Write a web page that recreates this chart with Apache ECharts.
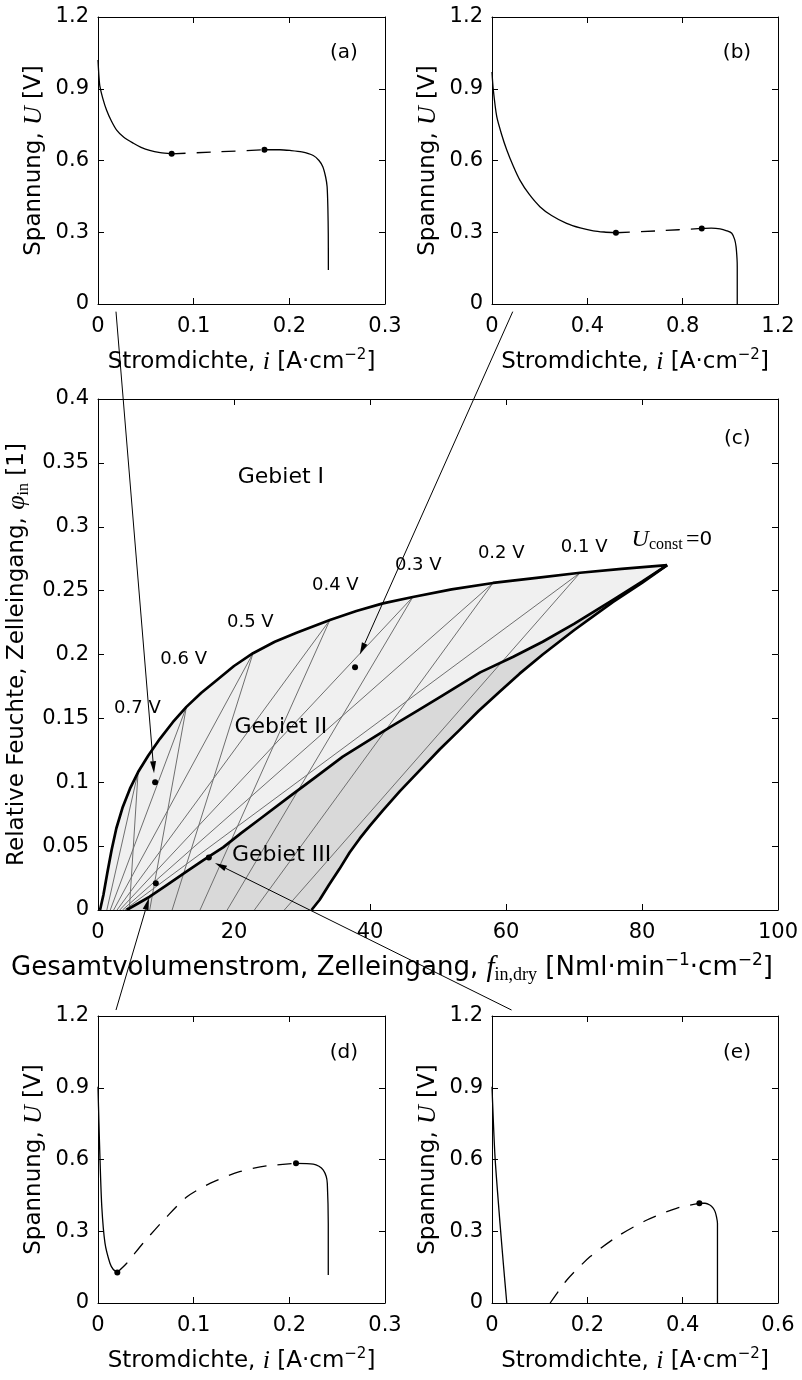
<!DOCTYPE html>
<html>
<head>
<meta charset="utf-8">
<script src="https://cdn.jsdelivr.net/npm/echarts@6/dist/echarts.min.js"></script>
<style>
html,body{margin:0;padding:0;background:#fff;}
#chart{width:802px;height:1380px;}
</style>
</head>
<body>
<div id="chart"></div>
<script>
// ================= DATA =================
// Panel (a): U(i) curve, stable branch 1, unstable (dashed) branch, stable branch 2
const aBranch1 = [[0,1.02],[0.001,0.95],[0.002,0.91],[0.005,0.86],[0.009,0.81],[0.014,0.765],[0.0195,0.727],[0.027,0.697],[0.037,0.672],[0.045,0.655],[0.054,0.642],[0.065,0.633],[0.077,0.628]];
const aUnstable = [[0.077,0.628],[0.125,0.636],[0.174,0.645]];
const aBranch2 = [[0.174,0.645],[0.19,0.645],[0.2007,0.642],[0.213,0.636],[0.225,0.621],[0.231,0.6],[0.235,0.574],[0.238,0.53],[0.2395,0.49],[0.2403,0.4],[0.2407,0.295],[0.2408,0.142]];
const aFolds = [[0.077,0.628],[0.174,0.645]];

// Panel (b)
const bBranch1 = [[0,0.97],[0.005,0.9],[0.02,0.783],[0.04,0.71],[0.062,0.644],[0.09,0.575],[0.117,0.518],[0.155,0.46],[0.201,0.407],[0.25,0.37],[0.313,0.337],[0.37,0.318],[0.425,0.306],[0.47,0.301],[0.52,0.298]];
const bUnstable = [[0.52,0.298],[0.7,0.306],[0.88,0.316]];
const bBranch2 = [[0.88,0.316],[0.92,0.317],[0.957,0.314],[0.985,0.306],[1.006,0.296],[1.018,0.27],[1.024,0.24],[1.028,0.19],[1.029,0.156],[1.029,0]];
const bFolds = [[0.52,0.298],[0.88,0.316]];

// Panel (d)
const dBranch1 = [[0,0.904],[0.001,0.75],[0.002,0.612],[0.004,0.40],[0.0073,0.25],[0.0125,0.166],[0.016,0.14],[0.0202,0.128]];
const dUnstable = [[0.0202,0.128],[0.03,0.166],[0.047,0.25],[0.072,0.361],[0.093,0.444],[0.117,0.5],[0.148,0.549],[0.176,0.573],[0.207,0.584]];
const dBranch2 = [[0.207,0.584],[0.225,0.581],[0.231,0.572],[0.2355,0.556],[0.2385,0.53],[0.2397,0.5],[0.2407,0.333],[0.2407,0.117]];
const dFolds = [[0.0202,0.128],[0.207,0.584]];

// Panel (e)
const eBranch1 = [[0,0.904],[0.0063,0.612],[0.0168,0.333],[0.024,0.16],[0.031,0]];
const eUnstable = [[0.122,0],[0.157,0.096],[0.206,0.194],[0.262,0.277],[0.325,0.347],[0.387,0.396],[0.435,0.417]];
const eBranch2 = [[0.435,0.417],[0.447,0.417],[0.457,0.41],[0.464,0.397],[0.468,0.382],[0.471,0.36],[0.473,0.333],[0.473,0]];
const eFolds = [[0.435,0.417]];

// Panel (c): region boundaries (f_in,dry , phi_in)
const upperBoundary = [[0.3,0],[0.8,0.012],[1.4,0.03],[2.0,0.047],[2.7,0.064],[3.6,0.08],[4.7,0.095],[5.9,0.108],[7.4,0.121],[9.1,0.134],[11,0.147],[13,0.159],[15.2,0.17],[17.5,0.18],[20,0.191],[22.8,0.201],[26,0.21],[29.2,0.217],[34.1,0.227],[38,0.234],[41.9,0.24],[46.3,0.245],[52,0.251],[58.1,0.256],[64.5,0.26],[70.9,0.264],[77,0.267],[83.7,0.27]];
const boundaryII_III = [[4.2,0],[6,0.0055],[7.6,0.0104],[10,0.019],[13,0.03],[15.5,0.039],[18.4,0.049],[21,0.06],[24,0.072],[28.2,0.089],[32,0.104],[36,0.12],[42.9,0.143],[47,0.156],[50.7,0.168],[56.2,0.186],[61,0.198],[65.4,0.21],[70,0.224],[75.8,0.243],[80,0.257],[83.7,0.27]];
const rightBoundary = [[31.4,0],[32.6,0.008],[34,0.02],[35.5,0.032],[37,0.045],[38.5,0.056],[40,0.066],[41.9,0.078],[44.4,0.093],[47.8,0.112],[50.3,0.126],[53,0.14],[56,0.156],[59.1,0.171],[62,0.185],[65.4,0.2],[70,0.219],[75.7,0.241],[80,0.256],[83.7,0.27]];

// constant-voltage loci: cusp on upper boundary, foot points on phi=0
const voltageLabels = ['0.7 V','0.6 V','0.5 V','0.4 V','0.3 V','0.2 V','0.1 V'];
const cusps = [[5.9,0.108],[13,0.159],[22.8,0.201],[34.1,0.227],[46.3,0.245],[58.1,0.256],[70.9,0.264]];
const lowerFoldFoot = [1.3,1.8,2.3,2.8,3.2,3.6,3.9];
const upperFoldFoot = [4.6,7.6,10.9,15,19,23,27.4];
const voltageLabelAt = [[5.8,0.158],[12.6,0.196],[22.4,0.225],[34.9,0.254],[47.1,0.27],[59.3,0.279],[71.5,0.284]];

// operating points marked in (c)
const cPoints = [[8.4,0.1],[37.8,0.19],[8.5,0.021],[16.3,0.041]];

// region labels
const regionNames = ['Gebiet I','Gebiet II','Gebiet III'];
const regionAt = [[26.9,0.339],[26.9,0.143],[27,0.043]];
const uConstAt = [78.4,0.2896];

// panel tags
const tags = ['(a)','(b)','(c)','(d)','(e)'];
const tagAt = [[0.257,1.05],[1.028,1.05],[94,0.369],[0.257,1.045],[0.514,1.045]];

// arrows: from below/above small panel (panel data coords) to points in (c)
const arrowFromPanel = [0,1,3,4];
const arrowFrom = [[0.0188,-0.032],[0.087,-0.032],[0.0188,1.225],[0.041,1.225]];
const arrowTo = [[8.24,0.107],[38.5,0.2],[7.5,0.0094],[17.2,0.0368]];

// axes
const xRanges = [[0,0.3,0.1],[0,1.2,0.4],[0,100,20],[0,0.3,0.1],[0,0.6,0.2]];
const yRanges = [[0,1.2,0.3],[0,1.2,0.3],[0,0.4,0.05],[0,1.2,0.3],[0,1.2,0.3]];
const xTitleIV = 'Stromdichte, {m|i} [A·cm{sup|−2}]';
const yTitleIV = 'Spannung, {m|U} [V]';
const xTitleC = 'Gesamtvolumenstrom, Zelleingang, {m|f}{sub|in,dry} [Nml·min{sup|−1}·cm{sup|−2}]';
const yTitleC = 'Relative Feuchte, Zelleingang, {m|φ}{sub|in} [1]';

// ================= LAYOUT / STYLE =================
const SANS = 'DejaVu Sans';
const SERIF = 'Liberation Serif';
const grids = [
  {left:98, top:17, width:287, height:287},
  {left:492, top:17, width:286, height:287},
  {left:98, top:399, width:680, height:511},
  {left:98, top:1016, width:287, height:287},
  {left:492, top:1016, width:286, height:287}
];
const xNames = [xTitleIV, xTitleIV, xTitleC, xTitleIV, xTitleIV];
const yNames = [yTitleIV, yTitleIV, yTitleC, yTitleIV, yTitleIV];
const yNameGap = [50, 50, 58, 50, 50];

function nameStyle(fs, pad) {
  const s = fs / 23;
  return {
    fontFamily: SANS, fontSize: fs, color: '#000', lineHeight: Math.round(28*s),
    padding: pad || 0,
    rich: {
      m: {fontFamily: SERIF, fontStyle: 'italic', fontSize: Math.round(26*s), lineHeight: Math.round(28*s), color:'#000'},
      sup: {fontFamily: SANS, fontSize: Math.round(15*s), verticalAlign: 'top', lineHeight: Math.round(15*s), color:'#000'},
      sub: {fontFamily: SERIF, fontSize: Math.round(16*s), verticalAlign: 'bottom', lineHeight: Math.round(17*s), color:'#000'}
    }
  };
}

const xAxes = [], yAxes = [];
grids.forEach((g, k) => {
  const [xmn, xmx, xiv] = xRanges[k];
  const [ymn, ymx, yiv] = yRanges[k];
  ['bottom','top'].forEach(pos => {
    const main = pos === 'bottom';
    const isC = k === 2;
    xAxes.push({
      type:'value', gridIndex:k, position:pos, min:xmn, max:xmx, interval:xiv,
      axisLine:{show:true, onZero:false, lineStyle:{color:'#000', width:1}},
      axisTick:{show:true, inside:true, length:6, lineStyle:{color:'#000', width:1}},
      axisLabel:{show:main, color:'#000', fontFamily:SANS, fontSize:21, margin:12},
      splitLine:{show:false},
      name: main ? xNames[k] : '', nameLocation:'middle', nameGap: isC ? 42 : 44,
      nameTextStyle: isC ? nameStyle(26, [0, 92, 0, 0]) : nameStyle(23)
    });
  });
  ['left','right'].forEach(pos => {
    const main = pos === 'left';
    yAxes.push({
      type:'value', gridIndex:k, position:pos, min:ymn, max:ymx, interval:yiv,
      axisLine:{show:true, onZero:false, lineStyle:{color:'#000', width:1}},
      axisTick:{show:true, inside:true, length:6, lineStyle:{color:'#000', width:1}},
      axisLabel:{show:main, color:'#000', fontFamily:SANS, fontSize:21, margin:9},
      splitLine:{show:false},
      name: main ? yNames[k] : '', nameLocation:'middle', nameGap:yNameGap[k], nameRotate:90,
      nameTextStyle: nameStyle(23)
    });
  });
});

const series = [];
function curve(k, data, dashed, z) {
  series.push({
    type:'line', xAxisIndex:2*k, yAxisIndex:2*k, data:data, showSymbol:false, symbol:'none',
    silent:true, smooth:0.25, z: z || 3,
    lineStyle:{color:'#000', width:1.3, type: dashed ? [14,11] : 'solid'}
  });
}
function dots(k, data, size) {
  series.push({
    type:'scatter', xAxisIndex:2*k, yAxisIndex:2*k, data:data, symbol:'circle', symbolSize:size || 5.5,
    silent:true, z:6, itemStyle:{color:'#000', opacity:1}
  });
}
function texts(k, items, z) {
  series.push({
    type:'scatter', xAxisIndex:2*k, yAxisIndex:2*k, data:items, symbolSize:1, silent:true, z: z || 7,
    itemStyle:{color:'#fff', opacity:0},
    label:{show:true, position:'inside', color:'#000', opacity:1, textBorderWidth:0, fontFamily:SANS, formatter: p => p.name}
  });
}

// small panels
const ivPanels = [
  {k:0, b1:aBranch1, u:aUnstable, b2:aBranch2, f:aFolds},
  {k:1, b1:bBranch1, u:bUnstable, b2:bBranch2, f:bFolds},
  {k:3, b1:dBranch1, u:dUnstable, b2:dBranch2, f:dFolds},
  {k:4, b1:eBranch1, u:eUnstable, b2:eBranch2, f:eFolds}
];
ivPanels.forEach(p => {
  curve(p.k, p.b1, false);
  curve(p.k, p.u, true);
  curve(p.k, p.b2, false);
  dots(p.k, p.f, 6);
});

// panel (c) regions
const regionII = upperBoundary.concat(boundaryII_III.slice().reverse());
const regionIII = boundaryII_III.concat(rightBoundary.slice().reverse());
function polygon(pts, fill, z) {
  series.push({
    type:'custom', xAxisIndex:4, yAxisIndex:4, silent:true, z:z, data:[[0,0]],
    renderItem: (params, api) => ({
      type:'polygon', shape:{points: pts.map(p => api.coord(p))},
      style:{fill: fill, stroke: null}
    })
  });
}
polygon(regionII, '#f0f0f0', 1);
polygon(regionIII, '#d9d9d9', 1);

// constant-voltage loci (thin grey lines)
cusps.forEach((c, i) => {
  [[[lowerFoldFoot[i], 0], c], [c, [upperFoldFoot[i], 0]]].forEach(seg => {
    series.push({
      type:'line', xAxisIndex:4, yAxisIndex:4, data:seg, showSymbol:false, symbol:'none',
      silent:true, z:2, lineStyle:{color:'#6e6e6e', width:1}
    });
  });
});

// thick boundaries
[upperBoundary, boundaryII_III, rightBoundary].forEach(b => {
  series.push({
    type:'line', xAxisIndex:4, yAxisIndex:4, data:b, showSymbol:false, symbol:'none',
    silent:true, z:4, lineStyle:{color:'#000', width:2.7, join:'round'}
  });
});
dots(2, cPoints, 6);

// labels in (c)
const cItems = [];
regionNames.forEach((n, i) => cItems.push({name:n, value:regionAt[i], label:{fontSize:22}}));
voltageLabels.forEach((n, i) => cItems.push({name:n, value:voltageLabelAt[i], label:{fontSize:18}}));
texts(2, cItems);
series.push({
  type:'scatter', xAxisIndex:4, yAxisIndex:4, symbolSize:1, silent:true, z:7,
  itemStyle:{color:'#fff', opacity:0},
  data:[{name:'U', value:uConstAt}],
  label:{show:true, position:'right', distance:0, color:'#000', opacity:1, textBorderWidth:0,
    formatter:'{u|U}{s|const} {e|=}{n|0}',
    rich:{
      u:{fontFamily:SERIF, fontStyle:'italic', fontSize:24, lineHeight:26, color:'#000'},
      s:{fontFamily:SERIF, fontSize:16, verticalAlign:'bottom', lineHeight:18, color:'#000'},
      e:{fontFamily:SERIF, fontSize:24, lineHeight:26, color:'#000'},
      n:{fontFamily:SANS, fontSize:20, lineHeight:26, color:'#000'}
    }}
});

// panel tags
tags.forEach((t, k) => texts(k, [{name:t, value:tagAt[k], label:{fontSize:20}}]));

const option = {
  animation:false,
  backgroundColor:'#fff',
  grid: grids.map(g => Object.assign({containLabel:false, outerBoundsMode:'none'}, g)),
  xAxis: xAxes,
  yAxis: yAxes,
  series: series
};

const chart = echarts.init(document.getElementById('chart'), null, {renderer:'canvas'});
chart.setOption(option);

// connecting arrows (endpoints converted through the axes of the panels)
const graphics = [];
arrowFrom.forEach((from, i) => {
  const k = arrowFromPanel[i];
  const p0 = chart.convertToPixel({xAxisIndex:2*k, yAxisIndex:2*k}, from);
  const p1 = chart.convertToPixel({xAxisIndex:4, yAxisIndex:4}, arrowTo[i]);
  const dx = p1[0]-p0[0], dy = p1[1]-p0[1];
  const L = Math.hypot(dx, dy), ux = dx/L, uy = dy/L;
  const hl = 12, hw = 3;
  const bx = p1[0]-ux*hl, by = p1[1]-uy*hl;
  graphics.push({type:'line', z:100, silent:true,
    shape:{x1:p0[0], y1:p0[1], x2:bx, y2:by}, style:{stroke:'#000', lineWidth:1}});
  graphics.push({type:'polygon', z:100, silent:true,
    shape:{points:[[p1[0],p1[1]],[bx-uy*hw, by+ux*hw],[bx+uy*hw, by-ux*hw]]},
    style:{fill:'#000'}});
});
chart.setOption({graphic: graphics});
</script>
</body>
</html>
